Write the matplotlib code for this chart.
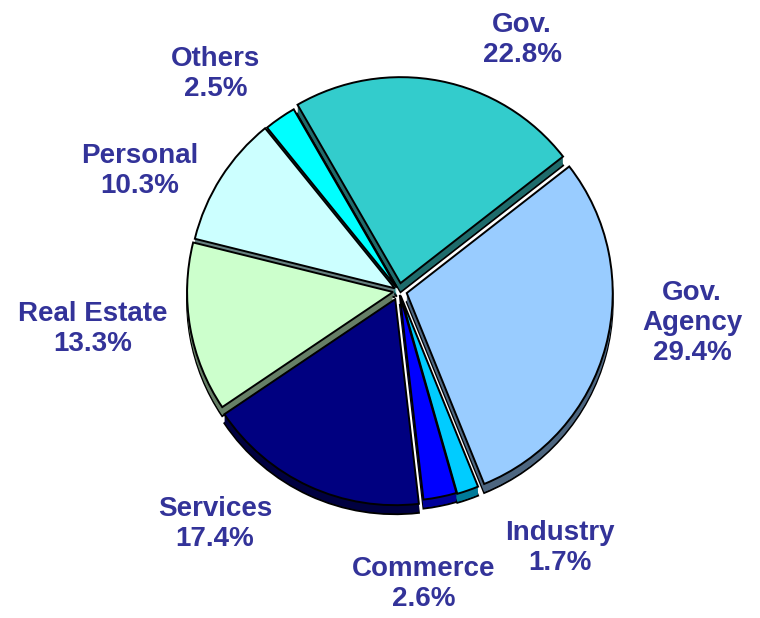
import matplotlib
matplotlib.use('Agg')
import matplotlib.pyplot as plt

# slice data, clockwise from the top
sectors = ['Gov.', 'Gov.\nAgency', 'Industry', 'Commerce', 'Services',
           'Real Estate', 'Personal', 'Others']
shares = [22.8, 29.4, 1.7, 2.6, 17.4, 13.3, 10.3, 2.5]
top_colors = ['#33CCCC', '#99CCFF', '#00CCFF', '#0000FF', '#000080',
              '#CCFFCC', '#CCFFFF', '#00FFFF']
side_colors = ['#1F6B6B', '#4D6680', '#007A99', '#000099', '#000040',
               '#667F66', '#668080', '#008080']
# explode offsets, in pixels (pie does not scale them by radius)
explode = [8, 8, 5, 4, 9, 6, 5, 4]

# label anchor points (pixel coords, y from top)
label_xy = [(522, 40), (692, 323), (560, 548), (424, 584), (215, 524),
            (93, 329), (140, 171), (216, 74)]

W, H = 760, 618
fig = plt.figure(figsize=(W / 100, H / 100), dpi=100)
ax = fig.add_axes([0, 0, 1, 1])

cx, cy, R = 399, H - 291, 206
depth = 9

# extruded sides: stacked copies shifted downward
for k in range(depth, 0, -1):
    ec = 'black' if k == depth else 'none'
    ax.pie(shares, explode=explode, colors=side_colors, startangle=120,
           counterclock=False, center=(cx, cy - k), radius=R,
           wedgeprops=dict(linewidth=1.4 if k == depth else 0, edgecolor=ec))

# top faces
ax.pie(shares, explode=explode, colors=top_colors, startangle=120,
       counterclock=False, center=(cx, cy), radius=R,
       wedgeprops=dict(linewidth=1.4, edgecolor='black'))

for name, val, (x, y) in zip(sectors, shares, label_xy):
    ax.text(x, H - y, f'{name}\n{val:.1f}%', ha='center', va='center',
            multialignment='center', fontsize=20, fontweight='bold',
            family='Liberation Sans', color='#333399', linespacing=1.2)

ax.set_xlim(0, W)
ax.set_ylim(0, H)
ax.set_aspect('equal')
ax.axis('off')
fig.savefig('out.png', dpi=100)
